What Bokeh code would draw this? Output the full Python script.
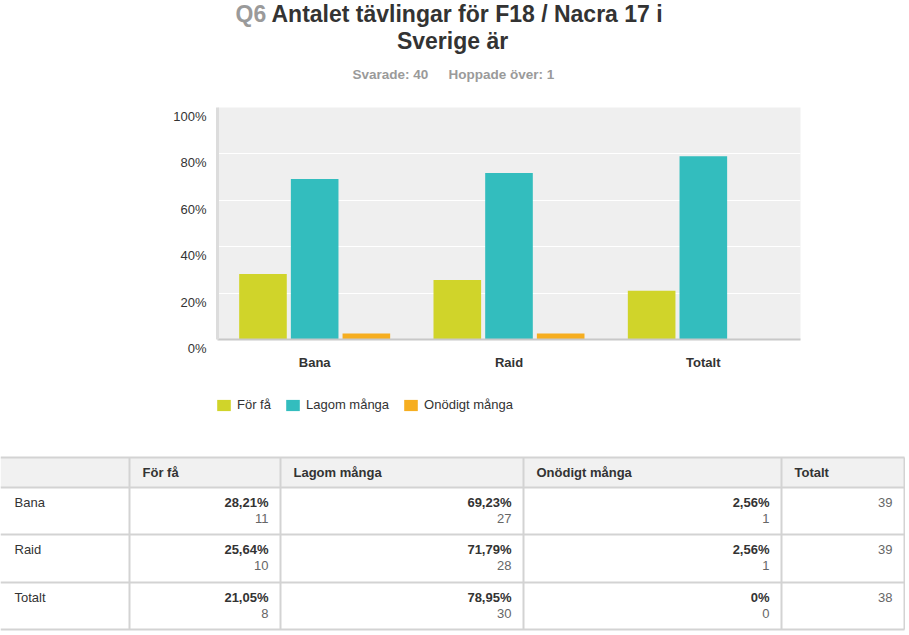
from bokeh.plotting import figure
from bokeh.models import (ColumnDataSource, FactorRange, Range1d, FixedTicker,
                          Legend, LegendItem)
from bokeh.transform import dodge
from bokeh.core.properties import value
from bokeh.embed import file_html
from bokeh.resources import INLINE

# ---------------- data ----------------
categories = ["Bana", "Raid", "Totalt"]
series_names = ["För få", "Lagom många", "Onödigt många"]
pct_for_fa = [28.21, 25.64, 21.05]
pct_lagom = [69.23, 71.79, 78.95]
pct_onodigt = [2.56, 2.56, 0.0]
cnt_for_fa = [11, 10, 8]
cnt_lagom = [27, 28, 30]
cnt_onodigt = [1, 1, 0]
totals = [39, 39, 38]
y_ticks = [0, 20, 40, 60, 80, 100]
y_tick_labels = ["0%", "20%", "40%", "60%", "80%", "100%"]

title_q = "Q6"
title_line1 = "Antalet tävlingar för F18 / Nacra 17 i"
title_line2 = "Sverige är"
sub_answered = "Svarade: 40"
sub_skipped = "Hoppade över: 1"

colors = ["#d0d42a", "#33bdbe", "#f6ae20"]
FONT = "Liberation Sans"
W = 905


def blank_fig(h):
    f = figure(width=W, height=h, x_range=Range1d(0, W), y_range=Range1d(h, 0),
               output_backend="svg", toolbar_location=None, min_border=0)
    f.axis.visible = False
    f.grid.visible = False
    f.outline_line_color = None
    f.background_fill_color = "white"
    f.border_fill_color = "white"
    return f


# ---------------- header ----------------
HH = 90
h = blank_fig(HH)
h.text(x=[235], y=[13], text=[title_q], text_font=value(FONT), text_font_size="23px",
       text_font_style="bold", text_color="#9a9a9a", text_align="left",
       text_baseline="alphabetic")
h.text(x=[271], y=[13], text=[title_line1], text_font=value(FONT), text_font_size="23px",
       text_font_style="bold", text_color="#333333", text_align="left",
       text_baseline="alphabetic")
h.text(x=[452], y=[40], text=[title_line2], text_font=value(FONT), text_font_size="23px",
       text_font_style="bold", text_color="#333333", text_align="center",
       text_baseline="alphabetic")
h.text(x=[352, 448], y=[74, 74], text=[sub_answered, sub_skipped], text_font=value(FONT),
       text_font_size="13.5px", text_font_style="bold", text_color="#9a9a9a",
       text_align="left", text_baseline="alphabetic")

# ---------------- chart ----------------
src = ColumnDataSource(data=dict(cat=categories, few=pct_for_fa,
                                 lagom=pct_lagom, onodigt=pct_onodigt))
keys = ["few", "lagom", "onodigt"]

CH = 289
p = figure(width=W, height=CH, x_range=FactorRange(*categories),
           y_range=Range1d(0, 100), output_backend="svg", toolbar_location=None,
           min_border_left=217, min_border_right=105, min_border_top=17,
           min_border_bottom=40)
p.background_fill_color = "#efefef"
p.border_fill_color = "white"
p.outline_line_color = None

for key, off, col in zip(keys, [-0.266, 0.0, 0.266], colors):
    p.vbar(x=dodge("cat", off, range=p.x_range), top=key, width=0.245,
           source=src, color=col, line_color=None)

p.xgrid.grid_line_color = None
p.ygrid.grid_line_color = "white"
p.ygrid.grid_line_width = 1

p.xaxis.axis_line_color = "#c8c8c8"
p.xaxis.axis_line_width = 2
p.xaxis.major_tick_line_color = None
p.xaxis.minor_tick_line_color = None
p.xaxis.major_label_standoff = 9
p.xaxis.major_label_text_font = FONT
p.xaxis.major_label_text_font_style = "bold"
p.xaxis.major_label_text_font_size = "13px"
p.xaxis.major_label_text_color = "#333333"

p.yaxis.ticker = FixedTicker(ticks=y_ticks)
# labels sit slightly below their gridlines, as in the original
p.yaxis.major_label_overrides = {t: "\n" + s for t, s in zip(y_ticks, y_tick_labels)}
p.yaxis.major_label_text_line_height = 1.2
p.yaxis.axis_line_color = "#dcdcdc"
p.yaxis.axis_line_width = 3
p.yaxis.major_tick_line_color = None
p.yaxis.minor_tick_line_color = None
p.yaxis.major_label_standoff = 5
p.yaxis.major_label_text_font = FONT
p.yaxis.major_label_text_font_size = "13px"
p.yaxis.major_label_text_color = "#333333"

# ---------------- legend strip ----------------
LH = 68
lf = blank_fig(LH)
items = []
for key, col, name in zip(keys, colors, series_names):
    # zero-size key glyphs: they only give the legend its colour swatches
    r = lf.vbar(x=key, top=key, bottom=key, width=0, source=src,
                fill_color=col, line_color=None)
    items.append(LegendItem(label=name, renderers=[r]))
lg = Legend(items=items, location=(215, 35), orientation="horizontal", padding=0,
            margin=0, spacing=13, glyph_width=17, glyph_height=14, label_height=14,
            label_standoff=5, label_text_font=FONT, label_text_font_size="13px",
            label_text_color="#333333", border_line_color=None,
            background_fill_alpha=0)
lf.add_layout(lg)

# ---------------- table ----------------
TH = 186
t = blank_fig(TH)

X = [0, 129, 280, 523, 781, 904]
Y = [10, 40, 87, 135, 182]
border = "#d3d3d3"

t.quad(left=[X[0]], right=[X[-1]], top=[Y[0]], bottom=[Y[1]],
       fill_color="#f1f1f1", line_color=None)
t.segment(x0=[X[0]] * len(Y), x1=[X[-1]] * len(Y), y0=Y, y1=Y,
          line_color=border, line_width=2)
t.segment(x0=X[1:], x1=X[1:], y0=[Y[0]] * 5, y1=[Y[-1]] * 5,
          line_color=border, line_width=2)

headers = series_names + ["Totalt"]
t.text(x=[X[i] + 13 for i in range(1, 5)], y=[(Y[0] + Y[1]) / 2] * 4, text=headers,
       text_font=value(FONT), text_font_size="13px", text_font_style="bold",
       text_color="#333333", text_align="left", text_baseline="middle")

row_tops = Y[1:4]
t.text(x=[14] * 3, y=[r + 15 for r in row_tops], text=categories,
       text_font=value(FONT), text_font_size="13px", text_color="#333333",
       text_align="left", text_baseline="middle")


def fmt(v):
    return "0%" if v == 0 else ("%.2f" % v).replace(".", ",") + "%"


pct_cols = [pct_for_fa, pct_lagom, pct_onodigt]
cnt_cols = [cnt_for_fa, cnt_lagom, cnt_onodigt]
px, py, pt, cy, ct = [], [], [], [], []
for c in range(3):
    for r in range(3):
        px.append(X[c + 2] - 12)
        py.append(row_tops[r] + 15)
        pt.append(fmt(pct_cols[c][r]))
        cy.append(row_tops[r] + 31)
        ct.append(str(cnt_cols[c][r]))
t.text(x=px, y=py, text=pt, text_font=value(FONT), text_font_size="13px",
       text_font_style="bold", text_color="#333333", text_align="right",
       text_baseline="middle")
t.text(x=px, y=cy, text=ct, text_font=value(FONT), text_font_size="13px",
       text_color="#666666", text_align="right", text_baseline="middle")
t.text(x=[X[5] - 12] * 3, y=[r + 15 for r in row_tops], text=[str(v) for v in totals],
       text_font=value(FONT), text_font_size="13px", text_color="#666666",
       text_align="right", text_baseline="middle")

open("out.html", "w").write(file_html([h, p, lf, t], INLINE))
